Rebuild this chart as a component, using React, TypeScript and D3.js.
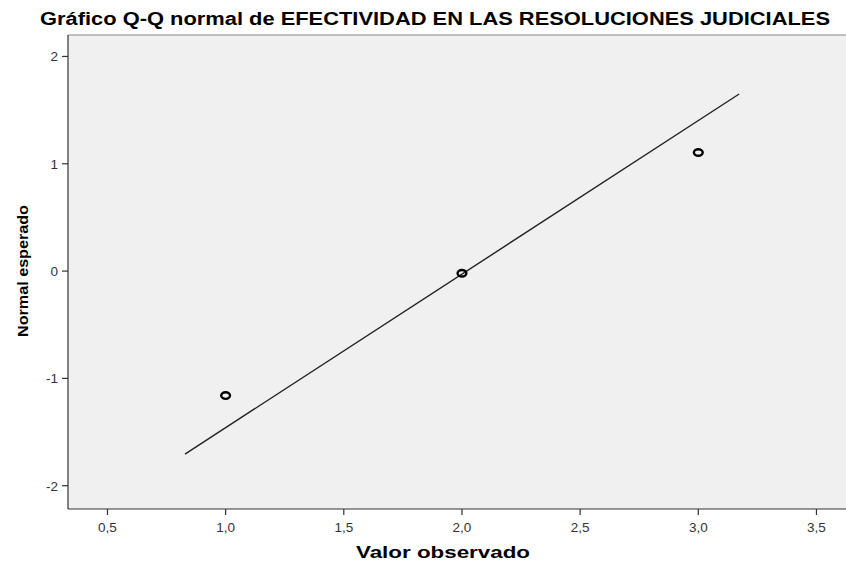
import React from "react";
import * as d3 from "d3";

const observed = [1.0, 2.0, 3.0];
const expected = [-1.16, -0.02, 1.105];
const lineX = [0.828, 3.173];
const lineY = [-1.705, 1.65];
const xTicks = [0.5, 1.0, 1.5, 2.0, 2.5, 3.0, 3.5];
const yTicks = [-2, -1, 0, 1, 2];
const title = "Gráfico Q-Q normal de EFECTIVIDAD EN LAS RESOLUCIONES JUDICIALES";

const W = 846, H = 562;
const L = 68, R = 846, T = 35, B = 509;

export default function App() {
  const x = d3.scaleLinear().domain([0.333, 3.625]).range([L, R]);
  const y = d3.scaleLinear().domain([-2.217, 2.2]).range([B, T]);
  const fmt = (v: number) => v.toFixed(1).replace(".", ",");
  const line = d3.line<number>().x((_, i) => x(lineX[i])).y((d) => y(d));
  return (
    <svg width={W} height={H} style={{ position: "absolute", left: 0, top: 0, fontFamily: "Arial, 'Liberation Sans', sans-serif" }}>
      <rect x={0} y={0} width={W} height={H} fill="#fff" />
      <text x={40} y={25} textAnchor="start" fontSize={18} fill="#000" fontWeight={600} textLength={790} lengthAdjust="spacingAndGlyphs">{title}</text>
      <rect x={L} y={T} width={R - L} height={B - T} fill="#f0f0f0" />
      <line x1={L} x2={R} y1={T} y2={T} stroke="#888" strokeWidth={1.2} />
      <line x1={L} x2={L} y1={T} y2={B} stroke="#333" strokeWidth={1.2} />
      <line x1={L} x2={R} y1={B} y2={B} stroke="#333" strokeWidth={1.2} />
      {xTicks.map((t) => (
        <g key={t}>
          <line x1={x(t)} x2={x(t)} y1={B} y2={B + 6} stroke="#333" strokeWidth={1.2} />
          <text x={x(t)} y={B + 23} textAnchor="middle" fontSize={13.5} fill="#333">{fmt(t)}</text>
        </g>
      ))}
      {yTicks.map((t) => (
        <g key={t}>
          <line x1={L - 6} x2={L} y1={y(t)} y2={y(t)} stroke="#333" strokeWidth={1.2} />
          <text x={L - 10} y={y(t) + 5} textAnchor="end" fontSize={13.5} fill="#333">{t}</text>
        </g>
      ))}
      <path d={line(lineY) || ""} fill="none" stroke="#222" strokeWidth={1.4} />
      {observed.map((o, i) => (
        <ellipse key={i} cx={x(o)} cy={y(expected[i])} rx={4.4} ry={3.3} fill="none" stroke="#000" strokeWidth={2.4} />
      ))}
      <text x={443} y={558} textAnchor="middle" fontSize={16} fontWeight="bold" fill="#000" textLength={174} lengthAdjust="spacingAndGlyphs">Valor observado</text>
      <text transform={`translate(28,271) rotate(-90)`} textAnchor="middle" fontSize={14.5} fontWeight="bold" fill="#000" textLength={132} lengthAdjust="spacingAndGlyphs">Normal esperado</text>
    </svg>
  );
}
